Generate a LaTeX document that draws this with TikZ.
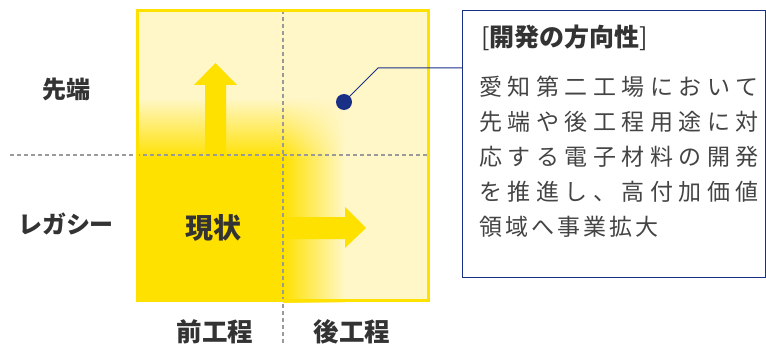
\documentclass[tikz,border=0pt]{standalone}
\usepackage{fontspec}
\setmainfont{Noto Sans CJK JP}
\usetikzlibrary{fadings}
\definecolor{yel}{HTML}{FFE100}
\definecolor{pale}{HTML}{FFF7C8}
\definecolor{navy}{HTML}{1A2F86}
\definecolor{dashc}{HTML}{9A9A9A}
\definecolor{ink}{HTML}{333333}
\definecolor{bodyc}{HTML}{444444}
\tikzset{
  lbl/.style={font=\fontsize{24}{24}\selectfont\bfseries, text=ink, inner sep=0},
  axlbl/.style={font=\fontsize{25.5}{25.5}\selectfont\bfseries, text=ink, inner sep=0},
  bodyline/.style={anchor=west, inner sep=0, text=bodyc, font=\fontsize{23}{23}\selectfont},
  dashline/.style={draw=dashc, line width=1.2pt, dash pattern=on 4pt off 3pt},
  bigarrow/.style={fill=yel, draw=none},
}
\begin{document}
\begin{tikzpicture}[x=1pt,y=-1pt]
\useasboundingbox (0,0) rectangle (766,345);
% background square
\fill[pale] (136,9) rectangle (430,302);
% gradients
\shade[top color=pale, bottom color=yel] (136,98) rectangle (283,158.5);
\fill[yel] (136,158) rectangle (283.5,302);
\shade[left color=yel, right color=pale] (283,158) rectangle (345,302);
\shade[left color=yel, right color=pale, path fading=north] (283,98) rectangle (345,158.5);
% arrows
\fill[bigarrow] (205,160) -- (205,85) -- (194,85) -- (215.5,63) -- (237,85) -- (226,85) -- (226,160) -- cycle;
\fill[bigarrow] (278,217) -- (345,217) -- (345,207) -- (366,228) -- (345,248) -- (345,239) -- (278,239) -- cycle;
% dashed axes
\draw[dashline] (283,10) -- (283,345);
\draw[dashline] (10,155) -- (428,155);
% square border
\draw[yel, line width=3pt] (137.5,10.5) rectangle (428.5,300.5);
% labels
\node[lbl, font=\fontsize{28}{28}\selectfont\bfseries] (genjo) at (213,228) {現状};
\node[lbl] (sentan) at (66,89) {先端};
\node[lbl] (legacy) at (66,224) {レガシー};
\node[axlbl] (mae) at (215,332) {前工程};
\node[axlbl] (ato) at (352,332) {後工程};
% info box
\node[draw=navy, line width=1pt, minimum width=303, minimum height=267, anchor=north west, inner sep=0] (info) at (462,10) {};
\node[anchor=west, inner sep=0, text=ink, font=\fontsize{25}{25}\selectfont] (head) at (481,38) {[\textbf{開発の方向性}]};
\node[bodyline] (l1) at (479,87) {\addfontfeature{LetterSpace=24}愛知第二工場において};
\node[bodyline] (l2) at (479,122) {\addfontfeature{LetterSpace=24}先端や後工程用途に対};
\node[bodyline] (l3) at (479,157) {\addfontfeature{LetterSpace=24}応する電子材料の開発};
\node[bodyline] (l4) at (479,192) {\addfontfeature{LetterSpace=24}を推進し、高付加価値};
\node[bodyline] (l5) at (479,227) {\addfontfeature{LetterSpace=13}領域へ事業拡大};
% dot and leader
\node[circle, fill=navy, minimum size=16, inner sep=0] (dot) at (344,102) {};
\coordinate (bend) at (378,68);
\draw[navy, line width=1pt] (dot.center) -- (bend) -- (bend -| info.west);
\end{tikzpicture}
\end{document}
